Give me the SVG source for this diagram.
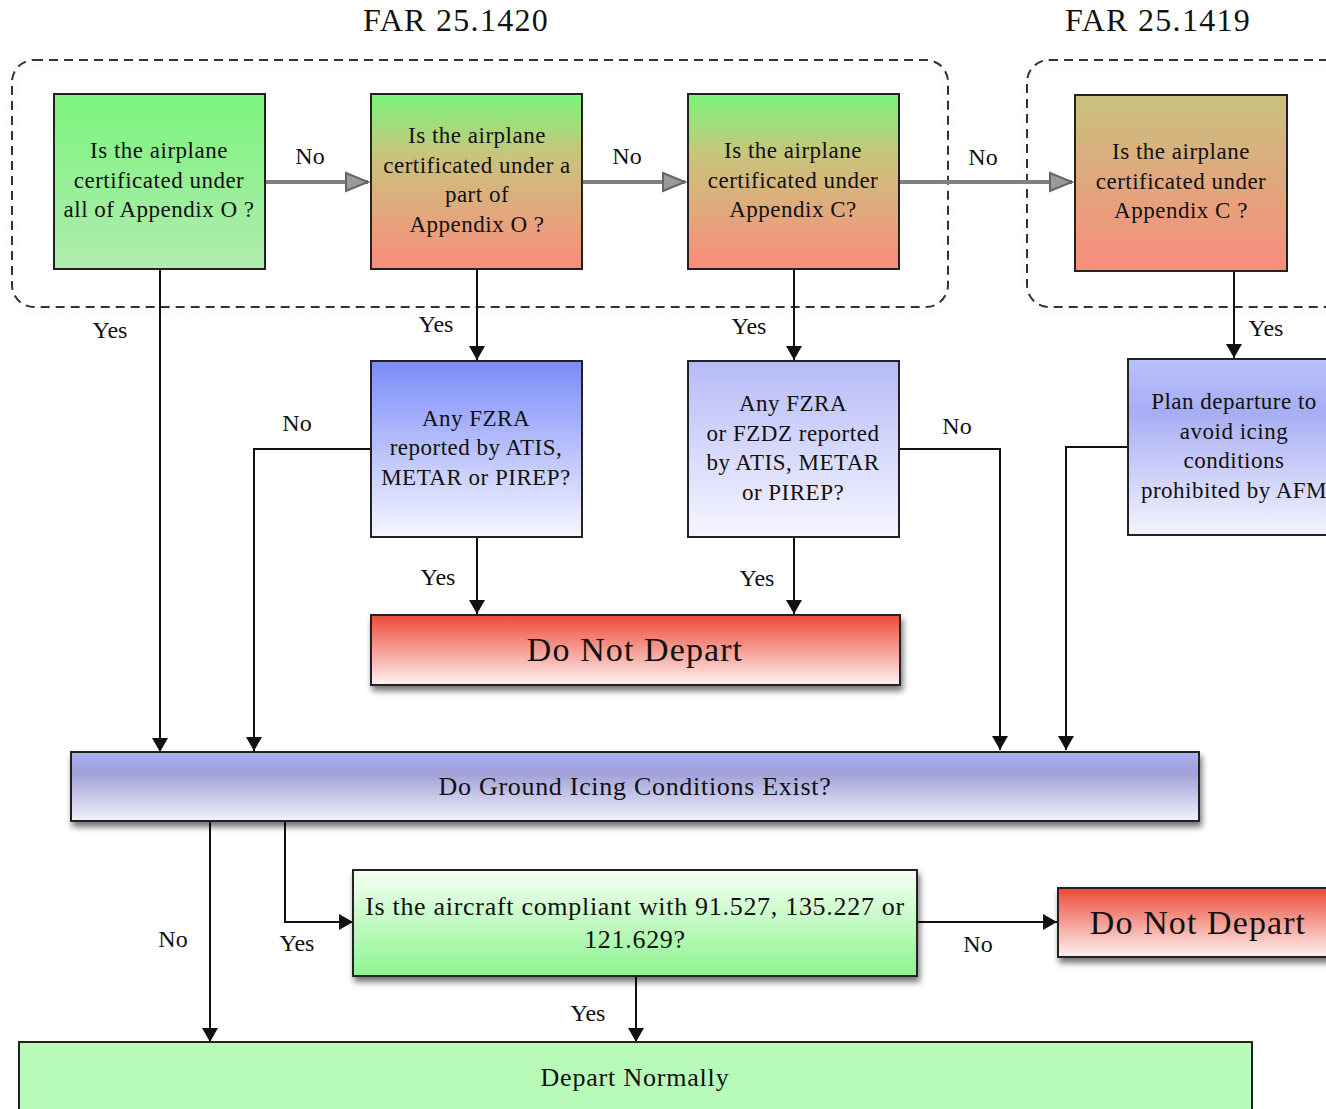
<svg xmlns="http://www.w3.org/2000/svg" width="1326" height="1109" viewBox="0 0 1326 1109">
<defs>
<style>
.t{font-family:"Liberation Serif","DejaVu Serif",serif;fill:#111;text-anchor:middle}
.bt{font-size:23px;letter-spacing:0.5px}
.lb{font-size:24px}
.big{font-size:26px;letter-spacing:0.7px}
.dnd{font-size:34px;letter-spacing:1.1px}
.ttl{font-size:32px;letter-spacing:1.3px}
.box{stroke:#222;stroke-width:2}
.grp{fill:none;stroke:#333;stroke-width:2;stroke-dasharray:9 6}
.c{fill:none;stroke:#111;stroke-width:2}
.g{fill:none;stroke:#808080;stroke-width:4}
</style>
<linearGradient id="gA" x1="0" y1="0" x2="0" y2="1"><stop offset="0" stop-color="#7cf37c"/><stop offset="1" stop-color="#b0ecb0"/></linearGradient>
<linearGradient id="gGR" x1="0" y1="0" x2="0" y2="1"><stop offset="0" stop-color="#7af57a"/><stop offset="0.35" stop-color="#c9c47c"/><stop offset="1" stop-color="#fa8c7c"/></linearGradient>
<linearGradient id="gKR" x1="0" y1="0" x2="0" y2="1"><stop offset="0" stop-color="#c8c27e"/><stop offset="1" stop-color="#fa8c7c"/></linearGradient>
<linearGradient id="gE" x1="0" y1="0" x2="0" y2="1"><stop offset="0" stop-color="#7b8cfa"/><stop offset="1" stop-color="#f6f6fe"/></linearGradient>
<linearGradient id="gF" x1="0" y1="0" x2="0" y2="1"><stop offset="0" stop-color="#b6bbf8"/><stop offset="1" stop-color="#f6f6fe"/></linearGradient>
<linearGradient id="gG" x1="0" y1="0" x2="0" y2="1"><stop offset="0" stop-color="#b8c2fb"/><stop offset="0.3" stop-color="#a7adf4"/><stop offset="1" stop-color="#f4f4fe"/></linearGradient>
<linearGradient id="gR" x1="0" y1="0" x2="0" y2="1"><stop offset="0" stop-color="#ee4a38"/><stop offset="1" stop-color="#fdf2f2"/></linearGradient>
<linearGradient id="gI" x1="0" y1="0" x2="0" y2="1"><stop offset="0" stop-color="#aab2f2"/><stop offset="0.3" stop-color="#a09fd8"/><stop offset="1" stop-color="#f2f2fb"/></linearGradient>
<linearGradient id="gC" x1="0" y1="0" x2="0" y2="1"><stop offset="0" stop-color="#f6fff6"/><stop offset="1" stop-color="#8ef48e"/></linearGradient>
<filter id="sh" x="-10%" y="-20%" width="120%" height="150%"><feDropShadow dx="2" dy="5" stdDeviation="3" flood-color="#000" flood-opacity="0.55"/></filter>
<filter id="glow" x="-5%" y="-10%" width="110%" height="125%"><feDropShadow dx="0" dy="3" stdDeviation="5" flood-color="#000" flood-opacity="0.12"/></filter>
<marker id="ah" viewBox="0 0 14 16" refX="14" refY="8" markerWidth="14" markerHeight="16" markerUnits="userSpaceOnUse" orient="auto"><path d="M0,0 L14,8 L0,16 Z" fill="#111"/></marker>
<marker id="gh" viewBox="0 0 26 22" refX="24" refY="11" markerWidth="26" markerHeight="22" markerUnits="userSpaceOnUse" orient="auto"><path d="M2,2 L24,11 L2,20 Z" fill="#9a9a9a" stroke="#666" stroke-width="2"/></marker>
</defs>
<rect width="1326" height="1109" fill="#fff"/>

<g id="titles">
<text class="t ttl" x="456" y="31">FAR 25.1420</text>
<text class="t ttl" x="1158" y="31">FAR 25.1419</text>
</g>

<g id="group-1420"><rect class="grp" x="12" y="60" width="936" height="247" rx="22" filter="url(#glow)"/></g>
<g id="group-1419"><rect class="grp" x="1027" y="60" width="320" height="247" rx="22" filter="url(#glow)"/></g>

<g id="connectors">
<path class="g" d="M265,182 H368" marker-end="url(#gh)"/>
<path class="g" d="M582,182 H685" marker-end="url(#gh)"/>
<path class="g" d="M899,182 H1072" marker-end="url(#gh)"/>
<path class="c" d="M160,269 V752" marker-end="url(#ah)"/>
<path class="c" d="M477,269 V360" marker-end="url(#ah)"/>
<path class="c" d="M794,269 V360" marker-end="url(#ah)"/>
<path class="c" d="M1234,271 V358" marker-end="url(#ah)"/>
<path class="c" d="M371,449 H254 V751" marker-end="url(#ah)"/>
<path class="c" d="M899,449 H1000 V750" marker-end="url(#ah)"/>
<path class="c" d="M1128,447 H1066 V750" marker-end="url(#ah)"/>
<path class="c" d="M477,537 V614" marker-end="url(#ah)"/>
<path class="c" d="M794,537 V614" marker-end="url(#ah)"/>
<path class="c" d="M210,821 V1042" marker-end="url(#ah)"/>
<path class="c" d="M285,821 V922 H353" marker-end="url(#ah)"/>
<path class="c" d="M917,922 H1057" marker-end="url(#ah)"/>
<path class="c" d="M636,976 V1042" marker-end="url(#ah)"/>
</g>

<g id="labels">
<text class="t lb" x="310" y="164">No</text>
<text class="t lb" x="627" y="164">No</text>
<text class="t lb" x="983" y="165">No</text>
<text class="t lb" x="110" y="338">Yes</text>
<text class="t lb" x="436" y="332">Yes</text>
<text class="t lb" x="749" y="334">Yes</text>
<text class="t lb" x="1266" y="336">Yes</text>
<text class="t lb" x="297" y="431">No</text>
<text class="t lb" x="957" y="434">No</text>
<text class="t lb" x="438" y="585">Yes</text>
<text class="t lb" x="757" y="586">Yes</text>
<text class="t lb" x="173" y="947">No</text>
<text class="t lb" x="297" y="951">Yes</text>
<text class="t lb" x="978" y="952">No</text>
<text class="t lb" x="588" y="1021">Yes</text>
</g>

<g id="n-appO-all">
<rect class="box" x="54" y="94" width="211" height="175" fill="url(#gA)"/>
<text class="t bt" x="159" y="158">Is the airplane</text>
<text class="t bt" x="159" y="188">certificated under</text>
<text class="t bt" x="159" y="217">all of Appendix O ?</text>
</g>
<g id="n-appO-part">
<rect class="box" x="371" y="94" width="211" height="175" fill="url(#gGR)"/>
<text class="t bt" x="477" y="143">Is the airplane</text>
<text class="t bt" x="477" y="173">certificated under a</text>
<text class="t bt" x="477" y="202">part of</text>
<text class="t bt" x="477" y="232">Appendix O ?</text>
</g>
<g id="n-appC-1420">
<rect class="box" x="688" y="94" width="211" height="175" fill="url(#gGR)"/>
<text class="t bt" x="793" y="158">Is the airplane</text>
<text class="t bt" x="793" y="188">certificated under</text>
<text class="t bt" x="793" y="217">Appendix C?</text>
</g>
<g id="n-appC-1419">
<rect class="box" x="1075" y="95" width="212" height="176" fill="url(#gKR)"/>
<text class="t bt" x="1181" y="159">Is the airplane</text>
<text class="t bt" x="1181" y="189">certificated under</text>
<text class="t bt" x="1181" y="218">Appendix C ?</text>
</g>
<g id="n-fzra">
<rect class="box" x="371" y="361" width="211" height="176" fill="url(#gE)"/>
<text class="t bt" x="476" y="426">Any FZRA</text>
<text class="t bt" x="476" y="455">reported by ATIS,</text>
<text class="t bt" x="476" y="485">METAR or PIREP?</text>
</g>
<g id="n-fzdz">
<rect class="box" x="688" y="361" width="211" height="176" fill="url(#gF)"/>
<text class="t bt" x="793" y="411">Any FZRA</text>
<text class="t bt" x="793" y="441">or FZDZ reported</text>
<text class="t bt" x="793" y="470">by ATIS, METAR</text>
<text class="t bt" x="793" y="500">or PIREP?</text>
</g>
<g id="n-plan">
<rect class="box" x="1128" y="359" width="210" height="176" fill="url(#gG)"/>
<text class="t bt" x="1234" y="409">Plan departure to</text>
<text class="t bt" x="1234" y="439">avoid icing</text>
<text class="t bt" x="1234" y="468">conditions</text>
<text class="t bt" x="1234" y="498">prohibited by AFM</text>
</g>
<g id="n-dnd-1">
<rect class="box" x="371" y="615" width="529" height="70" fill="url(#gR)" filter="url(#sh)"/>
<text class="t dnd" x="635" y="661">Do Not Depart</text>
</g>
<g id="n-ground">
<rect class="box" x="71" y="752" width="1128" height="69" fill="url(#gI)" filter="url(#sh)"/>
<text class="t big" x="635" y="795">Do Ground Icing Conditions Exist?</text>
</g>
<g id="n-compliant">
<rect class="box" x="353" y="870" width="564" height="106" fill="url(#gC)" filter="url(#sh)"/>
<text class="t big" x="635" y="915">Is the aircraft compliant with 91.527, 135.227 or</text>
<text class="t big" x="635" y="948">121.629?</text>
</g>
<g id="n-dnd-2">
<rect class="box" x="1058" y="888" width="290" height="69" fill="url(#gR)" filter="url(#sh)"/>
<text class="t dnd" x="1198" y="934">Do Not Depart</text>
</g>
<g id="n-depart">
<rect class="box" x="19" y="1042" width="1233" height="90" fill="#b8fab8"/>
<text class="t big" x="635" y="1086" style="letter-spacing:0.8px">Depart Normally</text>
</g>
</svg>
